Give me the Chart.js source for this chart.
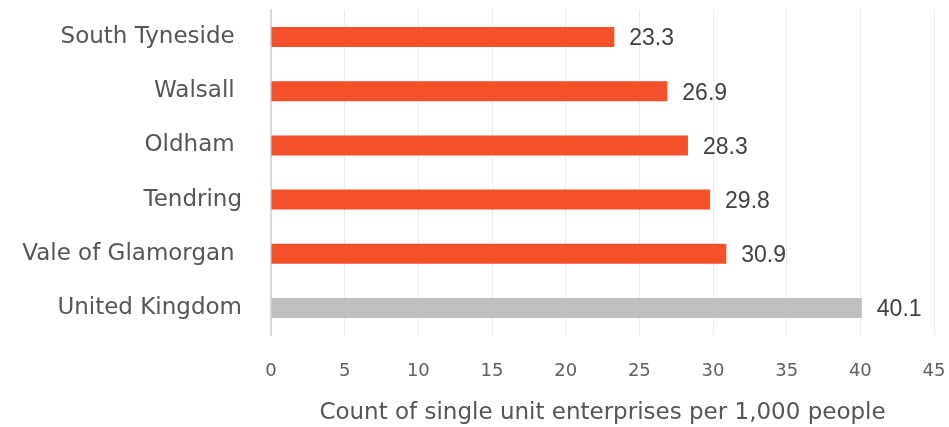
<!DOCTYPE html>
<html>
<head>
<meta charset="utf-8">
<script src="https://cdn.jsdelivr.net/npm/chart.js@4.4.0/dist/chart.umd.min.js"></script>
<style>
  html, body { margin: 0; padding: 0; background: #fff; }
  #wrap { width: 949px; height: 427px; position: relative; }
</style>
</head>
<body>
<div id="wrap"><canvas id="enterpriseChart"></canvas></div>
<script>
// Single unit enterprises per 1,000 people
const areas = ['South Tyneside ', 'Walsall ', 'Oldham ', 'Tendring', 'Vale of Glamorgan ', 'United Kingdom'];
const perThousand = [23.3, 26.9, 28.3, 29.8, 30.9, 40.1];
const barColours = ['#f4502a', '#f4502a', '#f4502a', '#f4502a', '#f4502a', '#bfbfbf'];
const xTicks = [0, 5, 10, 15, 20, 25, 30, 35, 40, 45];

const labelFont = "'DejaVu Sans', sans-serif";

// write the value just past the end of each bar
const valueLabels = {
  id: 'valueLabels',
  afterDatasetsDraw(chart) {
    const ctx = chart.ctx;
    const meta = chart.getDatasetMeta(0);
    ctx.save();
    ctx.font = "23px 'Liberation Sans', Arial, sans-serif";
    ctx.fillStyle = '#404040';
    ctx.textAlign = 'left';
    ctx.textBaseline = 'middle';
    meta.data.forEach((bar, i) => {
      ctx.fillText(perThousand[i].toFixed(1), bar.x + 15, bar.y + 2);
    });
    ctx.restore();
  }
};

new Chart(document.getElementById('enterpriseChart'), {
  type: 'bar',
  data: {
    labels: areas,
    datasets: [{
      data: perThousand,
      backgroundColor: barColours,
      borderWidth: 0,
      barPercentage: 0.74,
      categoryPercentage: 0.5
    }]
  },
  options: {
    indexAxis: 'y',
    responsive: true,
    maintainAspectRatio: false,
    animation: false,
    layout: { padding: { top: 10, right: 15, bottom: 0, left: 0 } },
    plugins: {
      legend: { display: false },
      tooltip: { enabled: false }
    },
    scales: {
      x: {
        min: 0,
        max: 45,
        afterBuildTicks: (axis) => { axis.ticks = xTicks.map(v => ({ value: v })); },
        afterFit: (axis) => {
          axis.height = 92;
          axis.paddingLeft = 0;
          axis.paddingRight = 0;
        },
        grid: { color: '#ececec', drawTicks: false },
        border: { display: false },
        ticks: {
          padding: 26,
          color: '#606060',
          font: { family: labelFont, size: 18 }
        },
        title: {
          display: true,
          text: 'Count of single unit enterprises per 1,000 people',
          color: '#555555',
          font: { family: labelFont, size: 23 },
          padding: { top: 0, bottom: 0 }
        }
      },
      y: {
        afterFit: (axis) => {
          axis.width = 271;
          axis.paddingTop = 0;
          axis.paddingBottom = 0;
        },
        grid: { display: false, drawTicks: false },
        border: { display: true, color: '#d9d9d9', width: 2 },
        ticks: {
          padding: 29,
          color: '#555555',
          font: { family: labelFont, size: 23 }
        }
      }
    }
  },
  plugins: [valueLabels]
});
</script>
</body>
</html>
